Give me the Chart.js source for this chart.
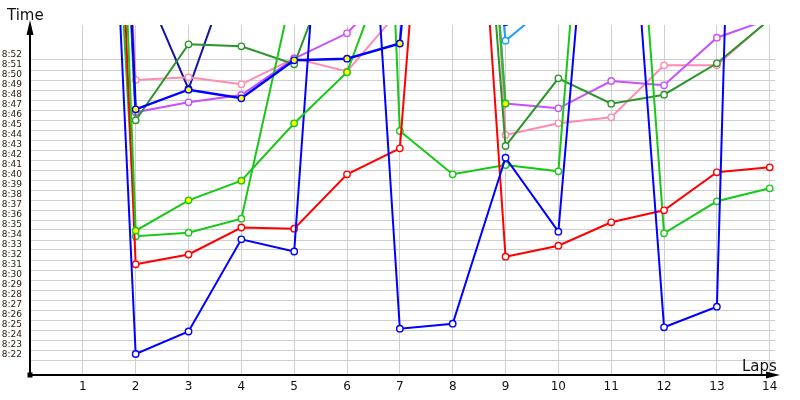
<!DOCTYPE html>
<html>
<head>
<meta charset="utf-8">
<script src="https://cdn.jsdelivr.net/npm/chart.js@4/dist/chart.umd.min.js"></script>
<style>
html,body{margin:0;padding:0;background:#fff;}
#wrap{position:relative;width:800px;height:400px;}
</style>
</head>
<body>
<div id="wrap"><canvas id="c"></canvas></div>
<script>
// Laps (x categories)
const laps = [1,2,3,4,5,6,7,8,9,10,11,12,13,14];
// Lap times in seconds (values above 8:55 run off the top of the chart)
const blueA   = [616, 502.1, 504.35, 513.57, 512.35, 587, 504.63, 505.13, 521.73, 514.33, 576, 504.77, 506.83, 693];
const blueB   = [647, 526.57, 528.53, 527.67, 531.47, 531.63, 533.15, 590, 535.3, null, null, null, null, null];
const navyC   = [640, 540.9, 528.6, 543.5, null, null, null, null, null, null, null, null, null, null];
const redD    = [638, 511.07, 512.05, 514.75, 514.63, 520.07, 522.67, 590, 511.83, 512.93, 515.27, 516.47, 520.27, 520.77];
const greenE  = [607, 513.87, 514.23, 515.63, 539.3, 650, 524.4, 520.07, 521.0, 520.37, 586, 514.17, 517.37, 518.67];
const greenF  = [650, 514.43, 517.47, 519.43, 525.17, 530.27, 544.5, 596, 527.15, null, null, null, null, null];
const dgreenG = [637, 525.47, 533.07, 532.87, 531.07, 544.96, 610, 591, 522.9, 529.67, 527.13, 528.03, 531.17, 535.55];
const pinkH   = [637.5, 529.5, 529.77, 529.07, 531.67, 530.35, 536.5, 620, 524.0, 525.17, 525.77, 530.97, 530.97, 535.6];
const purpleI = [640, 526.27, 527.27, 528.0, 531.65, 534.17, 539.7, 600, 527.15, 526.67, 529.4, 528.97, 533.73, 535.6];
const lblueJ  = [null, null, null, null, null, null, null, 585, 533.43, 537.8, null, null, null, null];
// Y tick labels (seconds): 8:22 .. 8:52
const yLabelValues = []; for (let s = 502; s <= 532; s++) yLabelValues.push(s);
const yGridValues = yLabelValues.map(v => v - 0.5);
const xTickValues = [0,1,2,3,4,5,6,7,8,9,10,11,12,13,14];

function fmt(v){ const m = Math.floor(v/60); const s = Math.round(v - m*60); return m + ':' + (s<10?'0':'') + s; }
function pts(arr){ return arr.map((v,i)=>({x:laps[i], y:v})); }
function ds(label, arr, color, fill, bw){
  return {label, data: pts(arr), borderColor: color, backgroundColor: fill, pointBackgroundColor: fill,
    pointBorderColor: color, borderWidth: bw||2, pointRadius: 3.2, pointBorderWidth: 1.4,
    pointHoverRadius: 3.2, tension: 0, spanGaps: false};
}

const decor = {
  id: 'decor',
  afterDraw(chart){
    const c = chart.ctx, a = chart.chartArea;
    c.save();
    c.fillStyle = '#000'; c.strokeStyle = '#000'; c.lineWidth = 2;
    // axis extensions
    c.beginPath(); c.moveTo(a.left, a.top); c.lineTo(a.left, 24); c.stroke();
    c.beginPath(); c.moveTo(a.right, a.bottom); c.lineTo(776, a.bottom); c.stroke();
    // arrows
    c.beginPath(); c.moveTo(a.left, 20); c.lineTo(a.left-3.5, 35); c.lineTo(a.left+3.5, 35); c.closePath(); c.fill();
    c.beginPath(); c.moveTo(780, a.bottom); c.lineTo(766, a.bottom-3.5); c.lineTo(766, a.bottom+3.5); c.closePath(); c.fill();
    c.fillRect(a.left-2.5, a.bottom-2.5, 5, 5);
    c.font = '15px "DejaVu Sans"'; c.fillStyle = '#111'; c.textBaseline = 'alphabetic';
    c.textAlign = 'left'; c.fillText('Time', 7, 20);
    c.fillText('Laps', 742, 371);
    c.restore();
  }
};

new Chart(document.getElementById('c'), {
  type: 'line',
  data: {
    datasets: [
      ds('B', blueB, '#0000ff', '#ffff00', 2.4),
      ds('F', greenF, '#18c818', '#ffff00'),
      ds('A', blueA, '#0000ff', '#ffffff'),
      ds('D', redD, '#ff0000', '#ffffff'),
      ds('E', greenE, '#18c818', '#ffffff'),
      ds('G', dgreenG, '#2a962a', '#ffffff'),
      ds('I', purpleI, '#c850ff', '#ffffff'),
      ds('H', pinkH, '#ff8cb0', '#ffffff'),
      ds('C', navyC, '#1414a0', '#ffffff'),
      ds('J', lblueJ, '#1aa0ff', '#ffffff')
    ]
  },
  options: {
    responsive: true, maintainAspectRatio: false, animation: false,
    layout: { padding: { top: 25, right: 25, left: 0, bottom: 0 } },
    plugins: { legend: { display: false }, tooltip: { enabled: false } },
    events: [],
    scales: {
      x: {
        type: 'linear', min: 0, max: 14.1,
        afterBuildTicks: s => { s.ticks = xTickValues.map(v => ({value: v})); },
        afterFit: s => { s.height = 25; },
        grid: { color: ctx => (ctx.tick && ctx.tick.value === 0) ? 'rgba(0,0,0,0)' : '#cfcfcf', lineWidth: 1, drawTicks: false },
        border: { color: '#000', width: 2 },
        ticks: { autoSkip: false, maxRotation: 0, padding: 5, color: '#111',
          font: { family: 'DejaVu Sans', size: 12 },
          callback: v => v === 0 ? '' : String(v) }
      },
      y: {
        type: 'linear', min: 500, max: 535,
        afterBuildTicks: s => { s.ticks = yGridValues.concat(yLabelValues).sort((a,b)=>a-b).map(v => ({value: v})); },
        afterFit: s => { s.width = 30; },
        grid: { color: ctx => (ctx.tick && ctx.tick.value % 1 !== 0) ? '#cfcfcf' : 'rgba(0,0,0,0)', lineWidth: 1, drawTicks: false },
        border: { color: '#000', width: 2 },
        ticks: { autoSkip: false, padding: 8, color: '#2a2010',
          font: { family: 'DejaVu Sans', size: 9 },
          callback: v => (v % 1 === 0) ? fmt(v) : '' }
      }
    }
  },
  plugins: [decor]
});
</script>
</body>
</html>
